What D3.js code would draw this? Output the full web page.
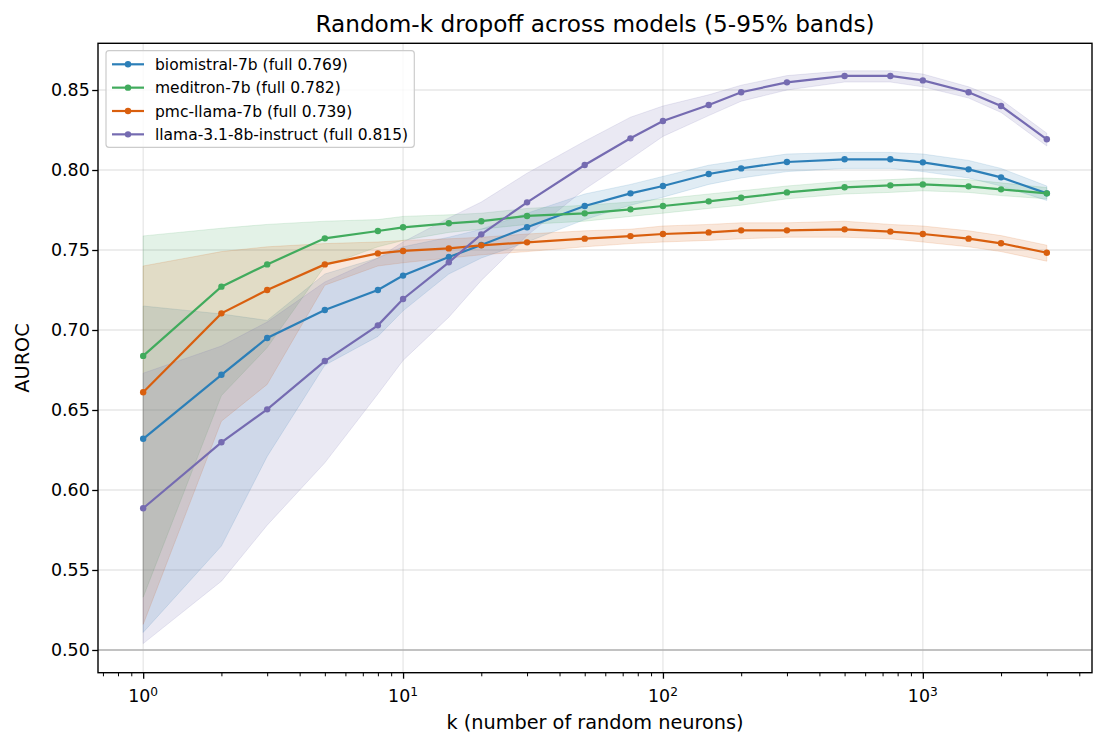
<!DOCTYPE html>
<meta charset="utf-8">
<script src="https://d3js.org/d3.v7.min.js"></script>
<style>
  body { margin: 0; background: #fff; }
  text { font-family: "DejaVu Sans", sans-serif; }
</style>
<div id="chart"></div>
<script>
// k values (number of random neurons)
const kValues = [1, 2, 3, 5, 8, 10, 15, 20, 30, 50, 75, 100, 150, 200, 300, 500, 750, 1000, 1500, 2000, 3000];

const modelNames = ["biomistral-7b", "meditron-7b", "pmc-llama-7b", "llama-3.1-8b-instruct"];
const fullScores = ["0.769", "0.782", "0.739", "0.815"];
const modelColors = ["#2c7fb8", "#41ab5d", "#d95f0e", "#756bb1"];

// mean AUROC per model
const biomistralMean = [0.632, 0.672, 0.695, 0.7125, 0.725, 0.734, 0.7456, 0.7531, 0.7642, 0.7775, 0.7854, 0.790, 0.7975, 0.801, 0.805, 0.8067, 0.8067, 0.8048, 0.8004, 0.7954, 0.7854];
const meditronMean = [0.6838, 0.7271, 0.741, 0.7573, 0.7619, 0.7642, 0.7667, 0.768, 0.7713, 0.7729, 0.7754, 0.7775, 0.7804, 0.7827, 0.786, 0.7892, 0.7904, 0.791, 0.7898, 0.7879, 0.7854];
const pmcMean = [0.6611, 0.7104, 0.725, 0.741, 0.7479, 0.7494, 0.751, 0.7529, 0.7548, 0.7571, 0.7587, 0.760, 0.761, 0.7623, 0.7623, 0.7629, 0.7615, 0.760, 0.7571, 0.7542, 0.7483];
const llamaMean = [0.5886, 0.6298, 0.6504, 0.6806, 0.7029, 0.7194, 0.7423, 0.7598, 0.7798, 0.8031, 0.8198, 0.8306, 0.8406, 0.8486, 0.8548, 0.8588, 0.8588, 0.856, 0.8486, 0.840, 0.8192];

// 5% and 95% bands
const biomistralLo = [0.511, 0.565, 0.621, 0.678, 0.696, 0.712, 0.735, 0.745, 0.755, 0.769, 0.778, 0.783, 0.791, 0.795, 0.799, 0.801, 0.801, 0.799, 0.795, 0.790, 0.781];
const biomistralHi = [0.715, 0.710, 0.706, 0.735, 0.745, 0.752, 0.758, 0.763, 0.773, 0.785, 0.791, 0.796, 0.803, 0.806, 0.810, 0.811, 0.811, 0.810, 0.806, 0.801, 0.790];
const meditronLo = [0.533, 0.659, 0.689, 0.740, 0.752, 0.756, 0.761, 0.763, 0.766, 0.768, 0.771, 0.773, 0.776, 0.778, 0.782, 0.785, 0.786, 0.787, 0.786, 0.784, 0.782];
const meditronHi = [0.7588, 0.7636, 0.766, 0.768, 0.769, 0.771, 0.772, 0.773, 0.776, 0.778, 0.780, 0.782, 0.785, 0.787, 0.790, 0.793, 0.794, 0.795, 0.794, 0.792, 0.789];
const pmcLo = [0.516, 0.643, 0.666, 0.728, 0.740, 0.742, 0.745, 0.747, 0.749, 0.752, 0.754, 0.755, 0.756, 0.757, 0.758, 0.758, 0.757, 0.755, 0.752, 0.749, 0.743];
const pmcHi = [0.740, 0.749, 0.752, 0.754, 0.755, 0.756, 0.757, 0.758, 0.760, 0.762, 0.763, 0.765, 0.766, 0.767, 0.767, 0.768, 0.766, 0.765, 0.762, 0.759, 0.753];
const llamaLo = [0.504, 0.543, 0.578, 0.617, 0.660, 0.681, 0.708, 0.731, 0.759, 0.788, 0.807, 0.821, 0.834, 0.843, 0.850, 0.855, 0.855, 0.852, 0.845, 0.836, 0.815];
const llamaHi = [0.673, 0.690, 0.705, 0.730, 0.745, 0.755, 0.770, 0.780, 0.798, 0.818, 0.833, 0.840, 0.847, 0.853, 0.859, 0.862, 0.862, 0.860, 0.852, 0.844, 0.823];

const yTicks = [0.50, 0.55, 0.60, 0.65, 0.70, 0.75, 0.80, 0.85];
const xTicks = [1, 10, 100, 1000];

const series = [
  { mean: biomistralMean, lo: biomistralLo, hi: biomistralHi },
  { mean: meditronMean, lo: meditronLo, hi: meditronHi },
  { mean: pmcMean, lo: pmcLo, hi: pmcHi },
  { mean: llamaMean, lo: llamaLo, hi: llamaHi }
].map((s, i) => ({
  name: modelNames[i],
  label: `${modelNames[i]} (full ${fullScores[i]})`,
  color: modelColors[i],
  points: kValues.map((k, j) => ({ k: k, v: s.mean[j], lo: s.lo[j], hi: s.hi[j] }))
}));

const W = 1105, H = 749;
const margin = { top: 43.3, right: 13, bottom: 76.3, left: 98 };
const width = W - margin.left - margin.right;
const height = H - margin.top - margin.bottom;

const svg = d3.select("#chart").append("svg")
  .attr("width", W)
  .attr("height", H);

const g = svg.append("g")
  .attr("transform", `translate(${margin.left},${margin.top})`);

// log x, 5% padding like matplotlib
const lmin = 0, lmax = Math.log10(3000), pad = (lmax - lmin) * 0.05;
const x = d3.scaleLog()
  .domain([Math.pow(10, lmin - pad), Math.pow(10, lmax + pad)])
  .range([0, width]);

const y = d3.scaleLinear()
  .domain([0.4858, 0.8792])
  .range([height, 0]);

// grid
g.append("g").selectAll("line")
  .data(yTicks)
  .join("line")
  .attr("x1", 0).attr("x2", width)
  .attr("y1", d => y(d)).attr("y2", d => y(d))
  .attr("stroke", "#b0b0b0").attr("stroke-opacity", 0.3).attr("stroke-width", 1.3);

g.append("g").selectAll("line")
  .data(xTicks)
  .join("line")
  .attr("x1", d => x(d)).attr("x2", d => x(d))
  .attr("y1", 0).attr("y2", height)
  .attr("stroke", "#b0b0b0").attr("stroke-opacity", 0.3).attr("stroke-width", 1.3);

// reference line at chance
g.append("line")
  .attr("x1", 0).attr("x2", width)
  .attr("y1", y(0.5)).attr("y2", y(0.5))
  .attr("stroke", "#b3b3b3").attr("stroke-width", 1.4);

const area = d3.area()
  .x(d => x(d.k))
  .y0(d => y(d.lo))
  .y1(d => y(d.hi));

const line = d3.line()
  .x(d => x(d.k))
  .y(d => y(d.v));

series.forEach(s => {
  g.append("path")
    .datum(s.points)
    .attr("d", area)
    .attr("fill", s.color)
    .attr("fill-opacity", 0.15)
    .attr("stroke", s.color)
    .attr("stroke-opacity", 0.15)
    .attr("stroke-width", 1);
});

series.forEach(s => {
  g.append("path")
    .datum(s.points)
    .attr("d", line)
    .attr("fill", "none")
    .attr("stroke", s.color)
    .attr("stroke-width", 2.2);

  g.append("g").selectAll("circle")
    .data(s.points)
    .join("circle")
    .attr("cx", d => x(d.k))
    .attr("cy", d => y(d.v))
    .attr("r", 3.2)
    .attr("fill", s.color);
});

// axes
const yAxis = g.append("g")
  .call(d3.axisLeft(y).tickValues(yTicks).tickFormat(d3.format(".2f")).tickSize(5.8).tickPadding(2.5));
yAxis.select(".domain").remove();
yAxis.selectAll("text").attr("font-size", "17.4px").attr("fill", "#000").attr("font-family", "DejaVu Sans");
yAxis.selectAll("line").attr("stroke", "#000").attr("stroke-width", 1.3);

const minorTicks = [];
[0.1, 1, 10, 100, 1000].forEach(dec => {
  for (let m = 2; m <= 9; m++) {
    const v = dec * m;
    if (v > x.domain()[0] && v < x.domain()[1] && xTicks.indexOf(v) < 0) minorTicks.push(v);
  }
});

const xMinor = g.append("g")
  .attr("transform", `translate(0,${height})`)
  .call(d3.axisBottom(x).tickValues(minorTicks).tickFormat("").tickSize(3.6));
xMinor.select(".domain").remove();
xMinor.selectAll("line").attr("stroke", "#000").attr("stroke-width", 1);

const xAxis = g.append("g")
  .attr("transform", `translate(0,${height})`)
  .call(d3.axisBottom(x).tickValues(xTicks).tickFormat("").tickSize(6));
xAxis.select(".domain").remove();
xAxis.selectAll("line").attr("stroke", "#000").attr("stroke-width", 1.3);

// 10^n labels
const xl = g.append("g").selectAll("text")
  .data(xTicks)
  .join("text")
  .attr("x", d => x(d))
  .attr("y", height + 29)
  .attr("text-anchor", "middle")
  .attr("font-size", "17.4px")
  .attr("fill", "#000");
xl.append("tspan").text("10");
xl.append("tspan")
  .attr("dy", "-0.5em")
  .attr("font-size", "12.2px")
  .text(d => Math.round(Math.log10(d)));

// frame
g.append("rect")
  .attr("x", 0).attr("y", 0)
  .attr("width", width).attr("height", height)
  .attr("fill", "none")
  .attr("stroke", "#000")
  .attr("stroke-width", 1.4);

// titles
svg.append("text")
  .attr("x", margin.left + width / 2)
  .attr("y", 32)
  .attr("text-anchor", "middle")
  .attr("font-size", "23.2px")
  .text("Random-k dropoff across models (5-95% bands)");

svg.append("text")
  .attr("x", margin.left + width / 2)
  .attr("y", 729)
  .attr("text-anchor", "middle")
  .attr("font-size", "19.3px")
  .text("k (number of random neurons)");

svg.append("text")
  .attr("transform", `translate(29,${margin.top + height / 2}) rotate(-90)`)
  .attr("text-anchor", "middle")
  .attr("font-size", "19.3px")
  .text("AUROC");

// legend
const leg = svg.append("g");
leg.append("rect")
  .attr("x", 106).attr("y", 50.7)
  .attr("width", 308.3).attr("height", 96.6)
  .attr("rx", 3)
  .attr("fill", "#fff").attr("fill-opacity", 0.8)
  .attr("stroke", "#cccccc").attr("stroke-width", 1.2);

const rowH = 23.35;
series.forEach((s, i) => {
  const cy = 64.3 + i * rowH;
  leg.append("line")
    .attr("x1", 112).attr("x2", 144)
    .attr("y1", cy).attr("y2", cy)
    .attr("stroke", s.color).attr("stroke-width", 2.2);
  leg.append("circle")
    .attr("cx", 128).attr("cy", cy).attr("r", 3.2)
    .attr("fill", s.color);
  leg.append("text")
    .attr("x", 155).attr("y", cy + 5.5)
    .attr("font-size", "15.5px")
    .text(s.label);
});
</script>
